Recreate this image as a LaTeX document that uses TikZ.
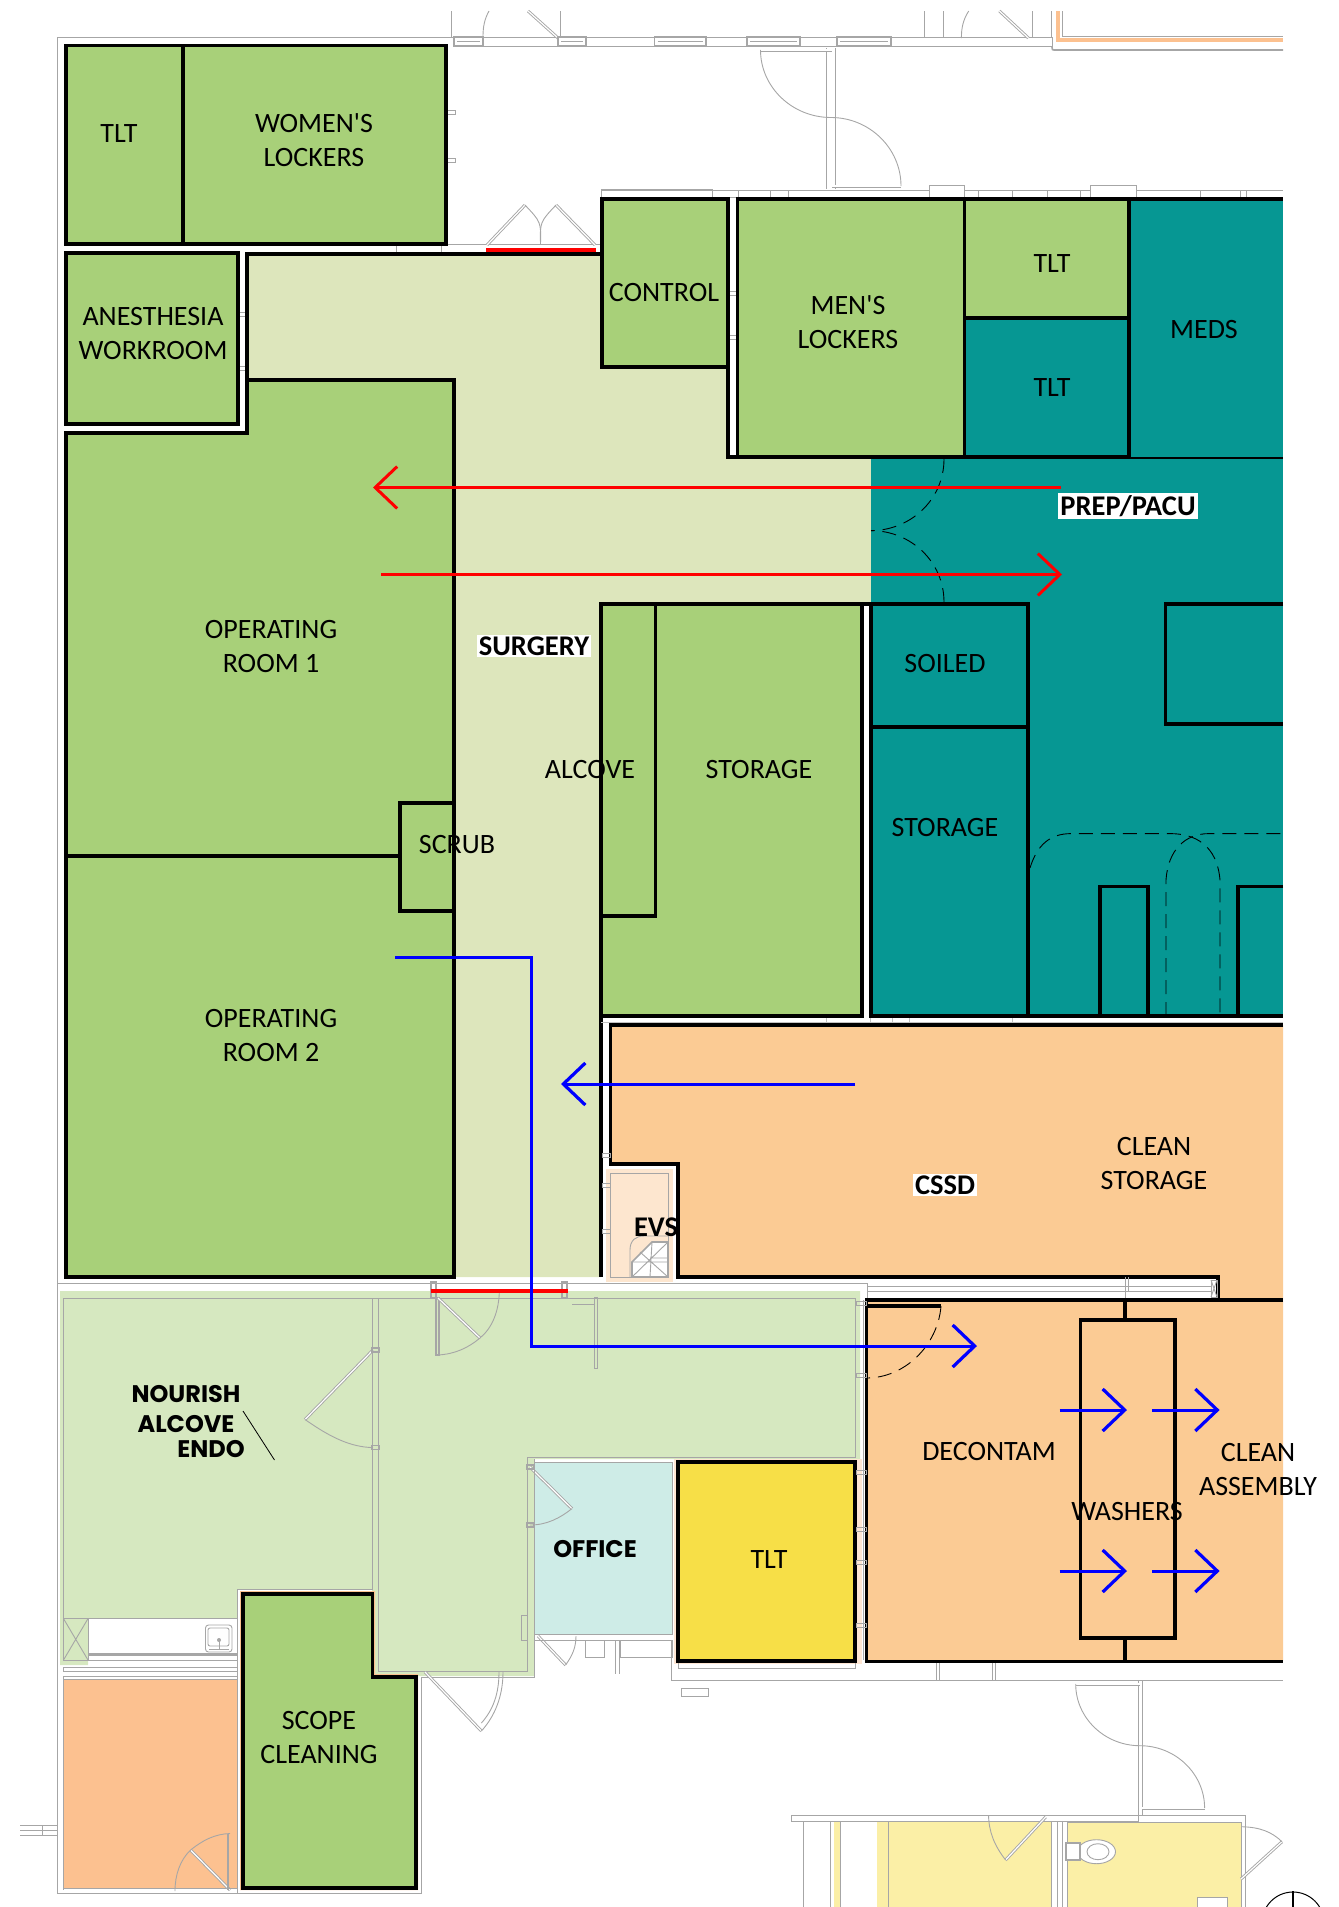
\documentclass[tikz,border=0pt]{standalone}
\usepackage{fontspec}
\setmainfont{Carlito}
\newfontfamily\cplain{Carlito}
\newfontfamily\gothic{Poppins}
\usetikzlibrary{arrows.meta,calc}
\definecolor{grn}{HTML}{A8D079}
\definecolor{surg}{HTML}{DDE6BC}
\definecolor{teal2}{HTML}{069793}
\definecolor{cssd}{HTML}{FBCB94}
\definecolor{endo}{HTML}{D6E8C0}
\definecolor{offc}{HTML}{CEECE7}
\definecolor{ylw}{HTML}{F7DF47}
\definecolor{orng}{HTML}{FCC190}
\definecolor{evsc}{HTML}{FDE6CF}
\definecolor{pyl}{HTML}{FBEFA6}
\definecolor{gl}{HTML}{A6A6A6}
\def\qa(#1)(#2)(#3){(#1) .. controls ($(#1)!.55!(#2)$) and ($(#3)!.55!(#2)$) .. (#3)}
\tikzset{
 wall/.style={draw=black,line width=3.8pt,line join=miter},
 gr/.style={draw=gl,line width=0.9pt},
 grb/.style={draw=gl,line width=1.6pt},
 leaf/.style={draw=gl,line width=3pt,postaction={draw=white,line width=1.2pt}},
 dsh/.style={draw=black,line width=0.9pt,dash pattern=on 14pt off 8pt},
 lab/.style={font=\fontsize{28}{34}\selectfont,align=center,text=black,inner sep=0pt},
 blab/.style={font=\fontsize{28.5}{32}\selectfont\bfseries,text=black,inner sep=2pt},
 glab/.style={font=\fontsize{24}{30}\selectfont\gothic\bfseries,text=black,inner sep=0pt},
 redarr/.style={draw=red,line width=2.8pt,-{Straight Barb[length=22pt,width=42pt,line width=3pt]}},
 bluearr/.style={draw=blue,line width=3pt,-{Straight Barb[length=22pt,width=42pt,line width=3.2pt]}},
}
\begin{document}
\begin{tikzpicture}[x=1pt,y=-1pt]
\useasboundingbox (0,0) rectangle (1339,1907);
% colour fields
\fill[surg] (247,254)--(601,254)--(601,367)--(728,367)--(728,457)--(871,457)--(871,604)--(601,604)--(601,1277)--(454,1277)--(454,380)--(247,380)--cycle;
\fill[teal2] (871,457)--(1283,457)--(1283,1016)--(871,1016)--cycle;
\fill[cssd] (610.5,1025)--(1283,1025)--(1283,1661)--(866,1661)--(866,1300)--(1217.6,1300)--(1217.6,1277)--(677.7,1277)--(677.7,1164)--(610.5,1164)--cycle;
\fill[endo] (60,1291)--(860,1291)--(860,1459)--(534,1459)--(534,1676)--(372,1676)--(372,1589)--(237,1589)--(237,1618)--(88,1618)--(88,1665)--(60,1665)--cycle;
\fill[offc] (534,1462)--(672,1462)--(672,1634)--(534,1634)--cycle;
\fill[orng] (63,1679)--(237,1679)--(237,1888)--(63,1888)--cycle;
\fill[orng] (240,1591)--(375,1591)--(375,1674)--(418,1674)--(418,1890)--(240,1890)--cycle;
\fill[evsc] (606,1169)--(672.7,1169)--(672.7,1281.7)--(606,1281.7)--cycle;
\fill[orng!40] (674,1459)--(862,1459)--(862,1664)--(674,1664)--cycle;
\fill[pyl] (834,1819)--(840,1819)--(840,1907)--(834,1907)--cycle;
\fill[pyl] (877,1819)--(1051,1819)--(1051,1907)--(877,1907)--cycle;
\fill[pyl] (1067,1822)--(1241,1822)--(1241,1907)--(1067,1907)--cycle;
% grey building outline
\draw[gr] (57.5,37)--(57.5,1893)--(421,1893)--(421,1677)--(534,1677)--(534,1459);
\draw[gr] (57.5,37)--(1052,37) (454,46)--(1052,46)--(1052,37);
\draw[gr] (451.7,11)--(451.7,37) (560,11)--(560,37) (924.7,11)--(924.7,37) (943,11)--(943,37) (1032.7,11)--(1032.7,37) (1051,11)--(1051,37);
\draw[gr] (489,11) .. controls (484,20) and (483,28) .. (483,37);
\draw[gr] (968.7,11) .. controls (963,20) and (961.4,28) .. (961.4,38);
\draw[leaf] (528,11)--(558,38);
\draw[leaf] (999.4,11)--(1028.4,38);
\foreach \a/\b in {454/483,558/586,654.6/706,747/800,837/891}{
 \draw[grb] (\a,37) rectangle (\b,46);
 \draw[gr] (\a+3,41.5)--(\b-3,41.5);
}
\draw[draw=orng,line width=3.5pt] (1058,11)--(1058,40)--(1283,40);
\draw[gr] (1062,11)--(1062,36)--(1283,36);
\draw[grb] (1052,47) .. controls (1052,50) .. (1056,50)--(1283,50);
% upper S door
\draw[gr] (826.6,48)--(826.6,189) (835,48)--(835,189);
\draw[leaf] (760.5,50)--(832,50);
\draw[leaf] (832,186)--(901,186);
\draw[gr] \qa(760.5,50)(760.5,117.5)(831,117.5);
\draw[gr] \qa(831,117.5)(901,117.5)(901,186);
\draw[gr] (601,190)--(1283,190) (601,197)--(1283,197);
\draw[gr] (601,189) rectangle (712,199);
\foreach \a/\b in {929/964.4,1090/1136}{\draw[gr,fill=white] (\a,185) rectangle (\b,199);}
\foreach \a in {738,770,788,978,1012,1047,1080,1200,1240,1246}{\draw[gr] (\a,190)--(\a,198);}
% upper double door
\draw[gr] (396,244)--(600,244) (396,244)--(396,253) (441,244)--(441,253);
\draw[leaf] (487,245)--(525,205);
\draw[leaf] (595,245)--(556,205);
\draw[gr] (525,205) .. controls (541,222) .. (540.5,244);
\draw[gr] (556,205) .. controls (540,222) .. (540.5,244);
\draw[draw=red,line width=3.6pt] (486,250)--(596,250);
% ticks on walls
\foreach \x/\y in {446/112,446/160}{\draw[gr] (\x,\y-2) rectangle (\x+9,\y+2);}
\foreach \y in {314,368}{\draw[gr] (238,\y-2) rectangle (246,\y+2);}
\foreach \y in {293,337}{\draw[gr] (728,\y-2) rectangle (737,\y+2);}
% rooms
\draw[wall,fill=grn] (66,45.5) rectangle (446,244);
\draw[wall] (183,45.5)--(183,244);
\draw[wall,fill=grn] (66,253) rectangle (238,424);
\draw[wall] (601,254)--(247,254)--(247,380);
\draw[wall,fill=grn] (66,433)--(247,433)--(247,380)--(454,380)--(454,1277)--(66,1277)--cycle;
\draw[wall] (66,856)--(400,856);
\draw[wall] (400,856)--(400,803)--(454,803) (400,856)--(400,911)--(454,911);
\draw[wall,fill=grn] (601.6,199) rectangle (727.6,367);
\draw[wall] (727.6,367)--(727.6,457)--(1283,457);
\draw[wall,fill=grn] (737.4,199) rectangle (964.4,457);
\draw[wall,fill=grn] (964.4,199) rectangle (1128.7,318);
\draw[wall,fill=teal2] (964.4,318) rectangle (1128.7,457);
\fill[teal2] (1128.7,199) rectangle (1283,457);
\draw[wall] (1128.7,199)--(1283,199) (1128.7,199)--(1128.7,457);
\draw[dsh] (944,459) .. controls (944,500) and (910,530.6) .. (871,530.6);
\draw[dsh] (944,602) .. controls (944,561) and (910,530.6) .. (871,530.6);
% storage block
\draw[wall] (601,604)--(601,1277);
\draw[wall,fill=grn] (601,604) rectangle (862,1016);
\draw[wall] (601,604) rectangle (655.5,916);
\draw[wall] (601,604)--(871,604);
\draw[wall] (871,604) rectangle (1027.6,1016);
\draw[wall] (871,727)--(1027.6,727);
\draw[wall] (1027.6,1016)--(1283,1016);
\draw[wall] (1283,604)--(1165.5,604)--(1165.5,724)--(1283,724);
\draw[wall] (1100,1016)--(1100,886.4)--(1148,886.4)--(1148,1016);
\draw[wall] (1283,886.4)--(1238,886.4)--(1238,1016);
\draw[dsh] (1030,868) .. controls (1037,845) and (1050,833.6) .. (1071,833.6)--(1170,833.6) .. controls (1195,833.6) and (1217,845) .. (1220,880)--(1220,1016);
\draw[dsh] (1166,1016)--(1166,880) .. controls (1168,850) and (1185,833.6) .. (1209,833.6)--(1283,833.6);
% CSSD walls
\draw[wall] (1283,1025)--(610.5,1025)--(610.5,1164)--(677.7,1164)--(677.7,1277)--(1217.6,1277)--(1217.6,1300)--(1283,1300);
\draw[gr,draw=gl!70] (601,1022)--(1283,1022);
\foreach \a in {826,870,892,909,1012}{\draw[gr,draw=gl!70] (\a,1018)--(\a,1022);}
% EVS
\draw[gr] (610.7,1173.5) rectangle (668.7,1277);
\draw[gr] (630,1277)--(630,1250) .. controls (630,1240) and (636,1236) .. (644,1236)--(668,1236);
\draw[grb,fill=white] (632,1277)--(632,1262)--(652,1242)--(668,1242)--(668,1277)--cycle;
\draw[gr] (632,1277)--(668,1242) (652,1242)--(650,1277) (632,1262)--(668,1262) (640,1252)--(668,1277) (650,1258)--(668,1258);
\foreach \y in {1155,1185,1231}{\draw[gr] (602,\y-2) rectangle (610,\y+2);}
% band below theatre
\draw[gr] (57.5,1283)--(867,1283)--(867,1300);
\draw[gr] (867,1286.7)--(1212,1286.7) (867,1291.7)--(1212,1291.7);
\draw[gr] (1125,1277)--(1125,1300) (1128,1277)--(1128,1291);
\draw[gr] (1211,1280) rectangle (1217,1297);
\draw[gr] (1211,1280)--(1217,1297) (1217,1280)--(1211,1297);
% endo plan
\draw[gr] (63.5,1298)--(855,1298)--(855,1457)--(527,1457)--(527,1671)--(378,1671)--(378,1298);
\draw[gr] (372,1298)--(372,1589)--(237,1589)--(237,1660)--(63.5,1660)--(63.5,1298);
\draw[gr] (863,1300)--(863,1660);
\draw[gr] (63.5,1667) rectangle (237,1671);
\draw[gr] (63.5,1676)--(237,1676);
\draw[gr,fill=white] (88,1618.6) rectangle (237,1655);
\draw[grb] (88,1654)--(237,1654);
\draw[gr] (63.5,1618.6) rectangle (88,1660);
\draw[gr] (63.5,1618.6)--(88,1660) (88,1618.6)--(63.5,1660);
\draw[gr,rounded corners=3pt] (205.5,1625) rectangle (232,1652);
\draw[gr,rounded corners=2pt] (208,1628) rectangle (229,1646);
\fill[gl] (219,1640) circle (2pt);
\draw[gr] (219,1640)--(219,1650) (209,1649)--(229,1649);
\draw[gr] (20,1825)--(57,1825) (20,1830)--(57,1830) (20,1835)--(57,1835);
\draw[gr] (42,1825)--(42,1835);
% endo doors
\draw[leaf] (373,1350)--(305,1419.5);
\draw[gr] (305,1419.5) .. controls (330,1437) and (350,1447) .. (373,1447.6);
\foreach \y in {1350,1447.6}{\draw[grb] (372,\y-2) rectangle (379,\y+2);}
\draw[grb] (436,1298) rectangle (439,1355);
\draw[leaf] (438,1298)--(480,1338);
\draw[gr] (438,1355) .. controls (455,1354) and (468,1348) .. (480,1338);
\draw[gr] (480,1338) .. controls (492,1328) and (499,1312) .. (499.4,1290);
\draw[grb] (431,1282) rectangle (436,1298);
\draw[grb] (562,1282) rectangle (567,1298);
\draw[leaf] (425,1672)--(481.4,1731);
\draw[gr] (481.4,1731) .. controls (495,1716) and (503,1696) .. (503,1672);
\draw[gr] (481.4,1723) .. controls (493,1710) and (499,1694) .. (499,1672);
\draw[leaf] (530,1467)--(572,1508.6);
\draw[gr] (572,1508.6) .. controls (560,1518) and (547,1525) .. (530,1525);
\foreach \y in {1467,1525}{\draw[grb] (527,\y-2) rectangle (534,\y+2);}
\draw[gr] (534,1462)--(672,1462)--(672,1634)--(534,1634)--cycle;
\draw[leaf] (538,1636)--(565.6,1665);
\draw[gr] (565.6,1665) .. controls (572,1656) and (576,1648) .. (576,1636);
\draw[gr] (521,1615) rectangle (527,1640);
\draw[gr] (534,1677)--(534,1640)--(672,1640);
\draw[gr] (585.6,1640) rectangle (604,1657);
\draw[gr] (615,1640)--(615,1674) (619,1640)--(619,1674);
\draw[gr] (620,1640) rectangle (672,1657);
\draw[gr] (671,1640)--(671,1680)--(1283,1680);
\draw[gr] (678,1661) rectangle (855,1668);
\draw[gr] (681,1688) rectangle (708,1696);
\foreach \a in {936,992}{\draw[gr] (\a,1661)--(\a,1680) (\a+3,1661)--(\a+3,1680);}
% orange room door
\draw[leaf] (230,1890)--(190.6,1850);
\draw[gr] (190.6,1850) .. controls (203,1840) and (215,1834) .. (230,1833.5);
\draw[gr] (190.6,1850) .. controls (180,1860) and (175,1875) .. (175,1891);
\draw[grb] (228,1833.5)--(228,1890);
\draw[gr] (63,1888)--(237,1888)--(237,1679) (63,1679)--(237,1679) (63,1676)--(63,1890);
\draw[gr] (237,1590)--(237,1893);
% CENTRE rooms
\draw[wall,fill=ylw] (677.6,1462) rectangle (855,1661);
\draw[wall,fill=grn] (243,1594)--(372.4,1594)--(372.4,1677)--(415.6,1677)--(415.6,1887.8)--(243,1887.8)--cycle;
\draw[wall] (1283,1300)--(866.5,1300)--(866.5,1661.5)--(1283,1661.5);
\draw[wall] (866.5,1306)--(941,1306);
\draw[dsh] (941,1306) .. controls (938,1345) and (905,1378) .. (866.5,1378);
\draw[wall] (1125,1300)--(1125,1320);
\draw[wall] (1080.5,1320) rectangle (1175,1638);
\draw[wall] (1125,1638)--(1125,1661);
\foreach \y in {1472,1529,1562,1625}{\draw[gr] (856,\y-2) rectangle (866,\y+2);}
\foreach \y in {1303,1375}{\draw[gr] (856,\y-2) rectangle (866,\y+2);}
\draw[gr] (594,1297) rectangle (597,1368);
\draw[gr] (572,1304.7)--(594,1304.7);
\draw[draw=red,line width=3.6pt] (430.5,1291)--(567.6,1291);
% lower S door
\draw[gr] (1138,1680)--(1138,1815) (1142,1680)--(1142,1815);
\draw[leaf] (1075.7,1684)--(1140,1684);
\draw[leaf] (1142,1808)--(1204.6,1808);
\draw[gr] \qa(1075.7,1684)(1075.7,1745.7)(1140,1745.7);
\draw[gr] \qa(1140,1745.7)(1204.6,1745.7)(1204.6,1808);
% lower rooms
\draw[gr,fill=white] (791.6,1815.7) rectangle (1138,1821);
\draw[gr] (1138,1815.7)--(1245,1815.7)--(1245,1907);
\draw[gr] (803,1821)--(803,1907) (830,1821)--(830,1907) (840,1821)--(840,1907) (888,1821)--(888,1907) (877,1821)--(1051,1821)--(1051,1907);
\draw[gr] (1057,1821)--(1057,1907) (1062,1821)--(1062,1907) (1067,1822)--(1067,1907) (1067,1822)--(1241,1822)--(1241,1907);
\draw[leaf] (1045.7,1817)--(1005.6,1860);
\draw[gr] (1005.6,1860) .. controls (994,1845) and (989,1832) .. (988.5,1815);
\draw[leaf] (1282,1841.7)--(1241,1879);
\draw[gr] (1241,1826.7) .. controls (1260,1827) and (1272,1832) .. (1282,1841.7);
\draw[gr,fill=white] (1096.5,1851.7) ellipse (19pt and 12pt);
\draw[gr,fill=white] (1098,1851.7) ellipse (11pt and 8pt);
\draw[grb,fill=white] (1066,1843) rectangle (1080,1860);
\draw[gr,fill=white] (1197,1897) rectangle (1227,1907);
\begin{scope}
 \clip (1250,1880) rectangle (1339,1907);
 \draw[draw=black,line width=1pt] (1293,1923) circle (31pt);
 \draw[draw=black,line width=2pt] (1293,1891)--(1293,1907);
\end{scope}
% arrows
\coordinate (ra1) at (1061,487.5); \coordinate (ra2) at (373,487.5);
\coordinate (rb1) at (381,574.5); \coordinate (rb2) at (1062,574.5);
\draw[redarr] (ra1)--(ra2);
\draw[redarr] (rb1)--(rb2);
\coordinate (b1) at (395,957); \coordinate (b2) at (531.5,957); \coordinate (b3) at (531.5,1346); \coordinate (b4) at (977,1346);
\draw[bluearr] (b1)--(b2)--(b3)--(b4);
\coordinate (c1) at (855,1084); \coordinate (c2) at (561,1084);
\draw[bluearr] (c1)--(c2);
\foreach \y in {1410,1571}{
 \draw[bluearr] (1059.6,\y)--(1127,\y);
 \draw[bluearr] (1152,\y)--(1219.6,\y);
}
\coordinate (nl1) at (243,1411); \coordinate (nl2) at (274.5,1460);
\draw[draw=black,line width=0.8pt] (nl1)--(nl2);
% labels
\node[lab] (t1) at (119,134) {TLT};
\node[lab] (t2) at (314,140) {\cplain WOMEN'S\\LOCKERS};
\node[lab] (t3) at (153,334) {ANESTHESIA\\WORKROOM};
\node[lab] (t4) at (664,293) {CONTROL};
\node[lab] (t5) at (848,322) {\cplain MEN'S\\LOCKERS};
\node[lab] (t6) at (1052,264) {TLT};
\node[lab] (t7) at (1052,388) {TLT};
\node[lab] (t8) at (1204,330) {MEDS};
\node[blab,fill=white] (t9) at (1128,506) {PREP/PACU};
\node[blab,fill=white] (t10) at (534,646) {SURGERY};
\node[lab] (t11) at (271,646) {OPERATING\\ROOM 1};
\node[lab] (t12) at (945,663) {SOILED};
\node[lab] (t13) at (590,769) {ALCOVE};
\node[lab] (t14) at (759,769) {STORAGE};
\node[lab] (t15) at (457,845) {SCRUB};
\node[lab] (t16) at (945,827) {STORAGE};
\node[lab] (t17) at (271,1035) {OPERATING\\ROOM 2};
\node[lab] (t18) at (1154,1163) {CLEAN\\STORAGE};
\node[blab,fill=white] (t19) at (945,1185) {CSSD};
\node[blab] (t20) at (656,1227) {EVS};
\node[glab] (t21) at (186,1394) {NOURISH};
\node[glab] (t22) at (186,1424) {ALCOVE};
\node[glab] (t23) at (211,1449) {ENDO};
\node[glab] (t24) at (595,1549) {OFFICE};
\node[lab] (t25) at (769,1559) {TLT};
\node[lab] (t26) at (989,1451) {DECONTAM};
\node[lab] (t27) at (1127,1511) {WASHERS};
\node[lab] (t28) at (1258,1469) {CLEAN\\ASSEMBLY};
\node[lab] (t29) at (319,1737) {SCOPE\\CLEANING};
\end{tikzpicture}
\end{document}
